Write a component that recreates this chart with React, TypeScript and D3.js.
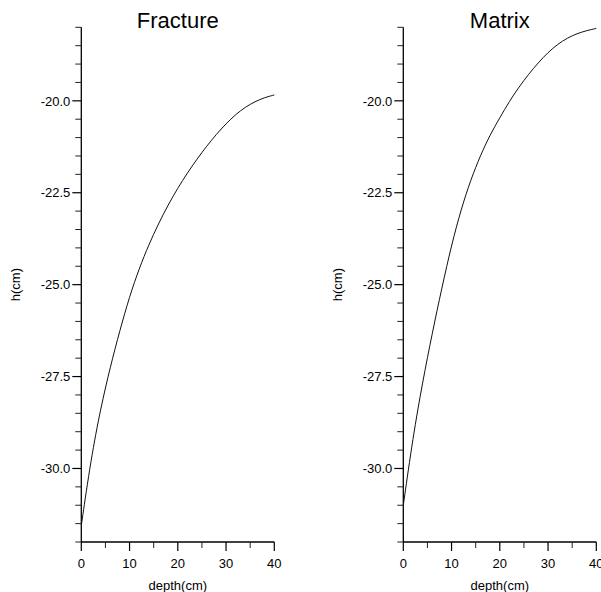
import React from "react";
import * as d3 from "d3";

// Depth positions (cm) along the profile
const depths = [0, 2, 4, 6, 8, 10, 12, 14, 16, 18, 20, 22, 24, 26, 28, 30, 32, 34, 36, 38, 40];

// Pressure head h (cm) in each domain
const fractureH = [
  -31.55, -29.75, -28.37, -27.24, -26.24, -25.32, -24.56, -23.91, -23.34, -22.83, -22.37,
  -21.96, -21.58, -21.23, -20.91, -20.62, -20.37, -20.17, -20.02, -19.91, -19.84,
];
const matrixH = [
  -31.0, -29.15, -27.65, -26.32, -25.08, -23.92, -22.94, -22.14, -21.48, -20.92, -20.46,
  -20.01, -19.62, -19.27, -18.96, -18.68, -18.46, -18.29, -18.17, -18.09, -18.03,
];

// Axis ticks
const xMajorTicks = [0, 10, 20, 30, 40];
const xMinorTicks = [5, 15, 25, 35];
const yMajorTicks = [-30, -27.5, -25, -22.5, -20];
const yMinorTicks = [
  -32, -31.5, -31, -30.5, -29.5, -29, -28.5, -28, -27, -26.5, -26, -25.5, -24.5, -24, -23.5,
  -23, -22, -21.5, -21, -20.5, -19.5, -19, -18.5, -18,
];

const panels = [
  { title: "Fracture", values: fractureH, left: 81.3 },
  { title: "Matrix", values: matrixH, left: 403.3 },
];

const FONT = "'Liberation Sans', Arial, Helvetica, sans-serif";
const plotW = 193;
const plotTop = 27.3;
const plotBottom = 542;

// plain hyphen-minus for negative tick labels
const locale = d3.formatLocale({
  decimal: ".",
  thousands: ",",
  grouping: [3],
  currency: ["", ""],
  minus: "-",
});

function Panel({ title, values, left }: { title: string; values: number[]; left: number }) {
  const x = d3.scaleLinear().domain([0, 40]).range([left, left + plotW]);
  const y = d3.scaleLinear().domain([-32, -18]).range([plotBottom, plotTop]);
  const line = d3
    .line<number>()
    .x((_, i) => x(depths[i]))
    .y((v) => y(v))
    .curve(d3.curveBasis);
  const fmtY = locale.format(".1f");
  const fmtX = locale.format("d");
  const x0 = x(0);
  const cx = (x(0) + x(40)) / 2;
  const cy = (plotTop + plotBottom) / 2;

  return (
    <g>
      <text x={cx} y={27.7} textAnchor="middle" fontSize={22} fontFamily={FONT} fill="#000">
        {title}
      </text>

      {/* y axis */}
      <line x1={x0} x2={x0} y1={plotTop} y2={plotBottom} stroke="#000" strokeWidth={1.3} />
      {yMinorTicks.map((t) => (
        <line key={"ym" + t} x1={x0 - 6} x2={x0} y1={y(t)} y2={y(t)} stroke="#222" strokeWidth={1} />
      ))}
      {yMajorTicks.map((t) => (
        <g key={"yM" + t}>
          <line x1={x0 - 9} x2={x0} y1={y(t)} y2={y(t)} stroke="#000" strokeWidth={1.2} />
          <text
            x={x0 - 11}
            y={y(t)}
            dy="0.36em"
            textAnchor="end"
            fontSize={13}
            fontFamily={FONT}
            fill="#000"
          >
            {fmtY(t)}
          </text>
        </g>
      ))}
      <text
        transform={`translate(${x0 - 61.5},${cy}) rotate(-90)`}
        textAnchor="middle"
        fontSize={13}
        fontFamily={FONT}
        fill="#000"
      >
        h(cm)
      </text>

      {/* x axis */}
      <line x1={x0} x2={x(40)} y1={plotBottom} y2={plotBottom} stroke="#000" strokeWidth={1.3} />
      {xMinorTicks.map((t) => (
        <line key={"xm" + t} x1={x(t)} x2={x(t)} y1={plotBottom} y2={plotBottom + 6} stroke="#222" strokeWidth={1} />
      ))}
      {xMajorTicks.map((t) => (
        <g key={"xM" + t}>
          <line x1={x(t)} x2={x(t)} y1={plotBottom} y2={plotBottom + 9} stroke="#000" strokeWidth={1.2} />
          <text x={x(t)} y={568} textAnchor="middle" fontSize={13} fontFamily={FONT} fill="#000">
            {fmtX(t)}
          </text>
        </g>
      ))}
      <text x={cx} y={589.5} textAnchor="middle" fontSize={13} fontFamily={FONT} fill="#000">
        depth(cm)
      </text>

      {/* profile curve */}
      <path d={line(values) ?? ""} fill="none" stroke="#111" strokeWidth={1} />
    </g>
  );
}

export default function App() {
  return (
    <svg
      width={601}
      height={592}
      viewBox="0 0 601 592"
      style={{ position: "absolute", left: 0, top: 0, background: "#fff" }}
    >
      <rect width={601} height={592} fill="#fff" />
      {panels.map((p) => (
        <Panel key={p.title} title={p.title} values={p.values} left={p.left} />
      ))}
    </svg>
  );
}
